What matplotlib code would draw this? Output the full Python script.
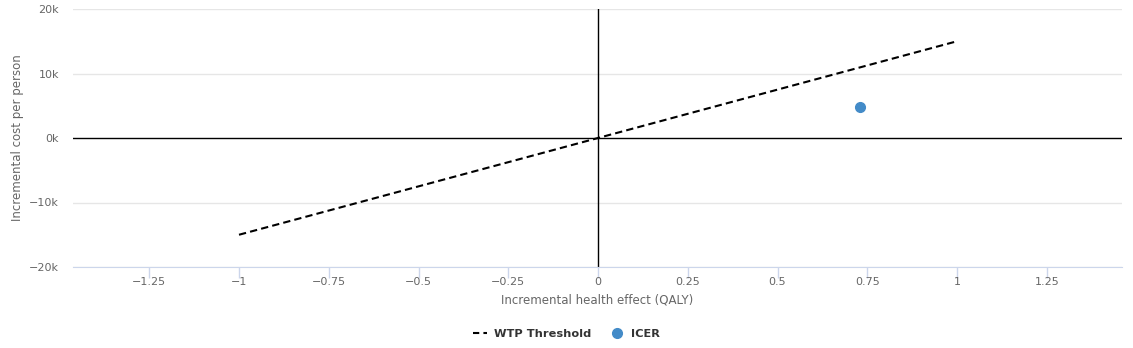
import matplotlib.pyplot as plt
from matplotlib.lines import Line2D

# willingness-to-pay threshold line and the ICER point
wtp_x = [-1, 0, 1]
wtp_y = [-15000, 0, 15000]
icer_x = [0.73]
icer_y = [4800]

x_ticks = [-1.25, -1, -0.75, -0.5, -0.25, 0, 0.25, 0.5, 0.75, 1, 1.25]
x_labels = ['\u22121.25', '\u22121', '\u22120.75', '\u22120.5', '\u22120.25', '0',
            '0.25', '0.5', '0.75', '1', '1.25']
y_ticks = [-20000, -10000, 0, 10000, 20000]
y_labels = ['\u221220k', '\u221210k', '0k', '10k', '20k']

fig = plt.figure(figsize=(11.33, 3.48), dpi=100)
ax = fig.add_axes([73 / 1133, 81 / 348, 1049 / 1133, 258 / 348])

ax.set_xlim(-1.4624, 1.4596)
ax.set_ylim(-20000, 20000)

# grid and zero lines
for y in y_ticks:
    if y != 0:
        ax.axhline(y, color='#e6e6e6', lw=1, zorder=0)
ax.axhline(0, color='black', lw=1, zorder=1)
ax.axvline(0, color='black', lw=1, zorder=1)

ax.plot(wtp_x, wtp_y, color='black', lw=1.5, linestyle=(0, (3.5, 2)), zorder=3)
ax.plot(icer_x, icer_y, 'o', color='#438bc8', markersize=7, zorder=4)

for s in ['top', 'right', 'left']:
    ax.spines[s].set_visible(False)
ax.spines['bottom'].set_color('#ccd6eb')
ax.spines['bottom'].set_zorder(2)

ax.set_xticks(x_ticks)
ax.set_xticklabels(x_labels)
ax.set_yticks(y_ticks)
ax.set_yticklabels(y_labels)
ax.tick_params(axis='x', colors='#666666', labelsize=8, length=8, width=1,
               color='#ccd6eb', pad=-1)
ax.tick_params(axis='y', colors='#666666', labelsize=8, length=0, pad=10)

ax.set_xlabel('Incremental health effect (QALY)', color='#666666', fontsize=8.5, labelpad=5)
ax.set_ylabel('Incremental cost per person', color='#666666', fontsize=8.5, labelpad=4)

handles = [
    Line2D([0], [0], color='black', lw=1.5, linestyle=(0, (3, 2))),
    Line2D([0], [0], marker='o', color='#438bc8', lw=0, markersize=7),
]
leg = fig.legend(handles, ['WTP Threshold', 'ICER'], loc='center', ncol=2,
                 bbox_to_anchor=(0.5, 14 / 348), frameon=False, handlelength=1.3,
                 columnspacing=1.6, handletextpad=0.6,
                 prop={'weight': 'bold', 'size': 8.2})
for t in leg.get_texts():
    t.set_color('#333333')

plt.savefig('out.png', dpi=100)
